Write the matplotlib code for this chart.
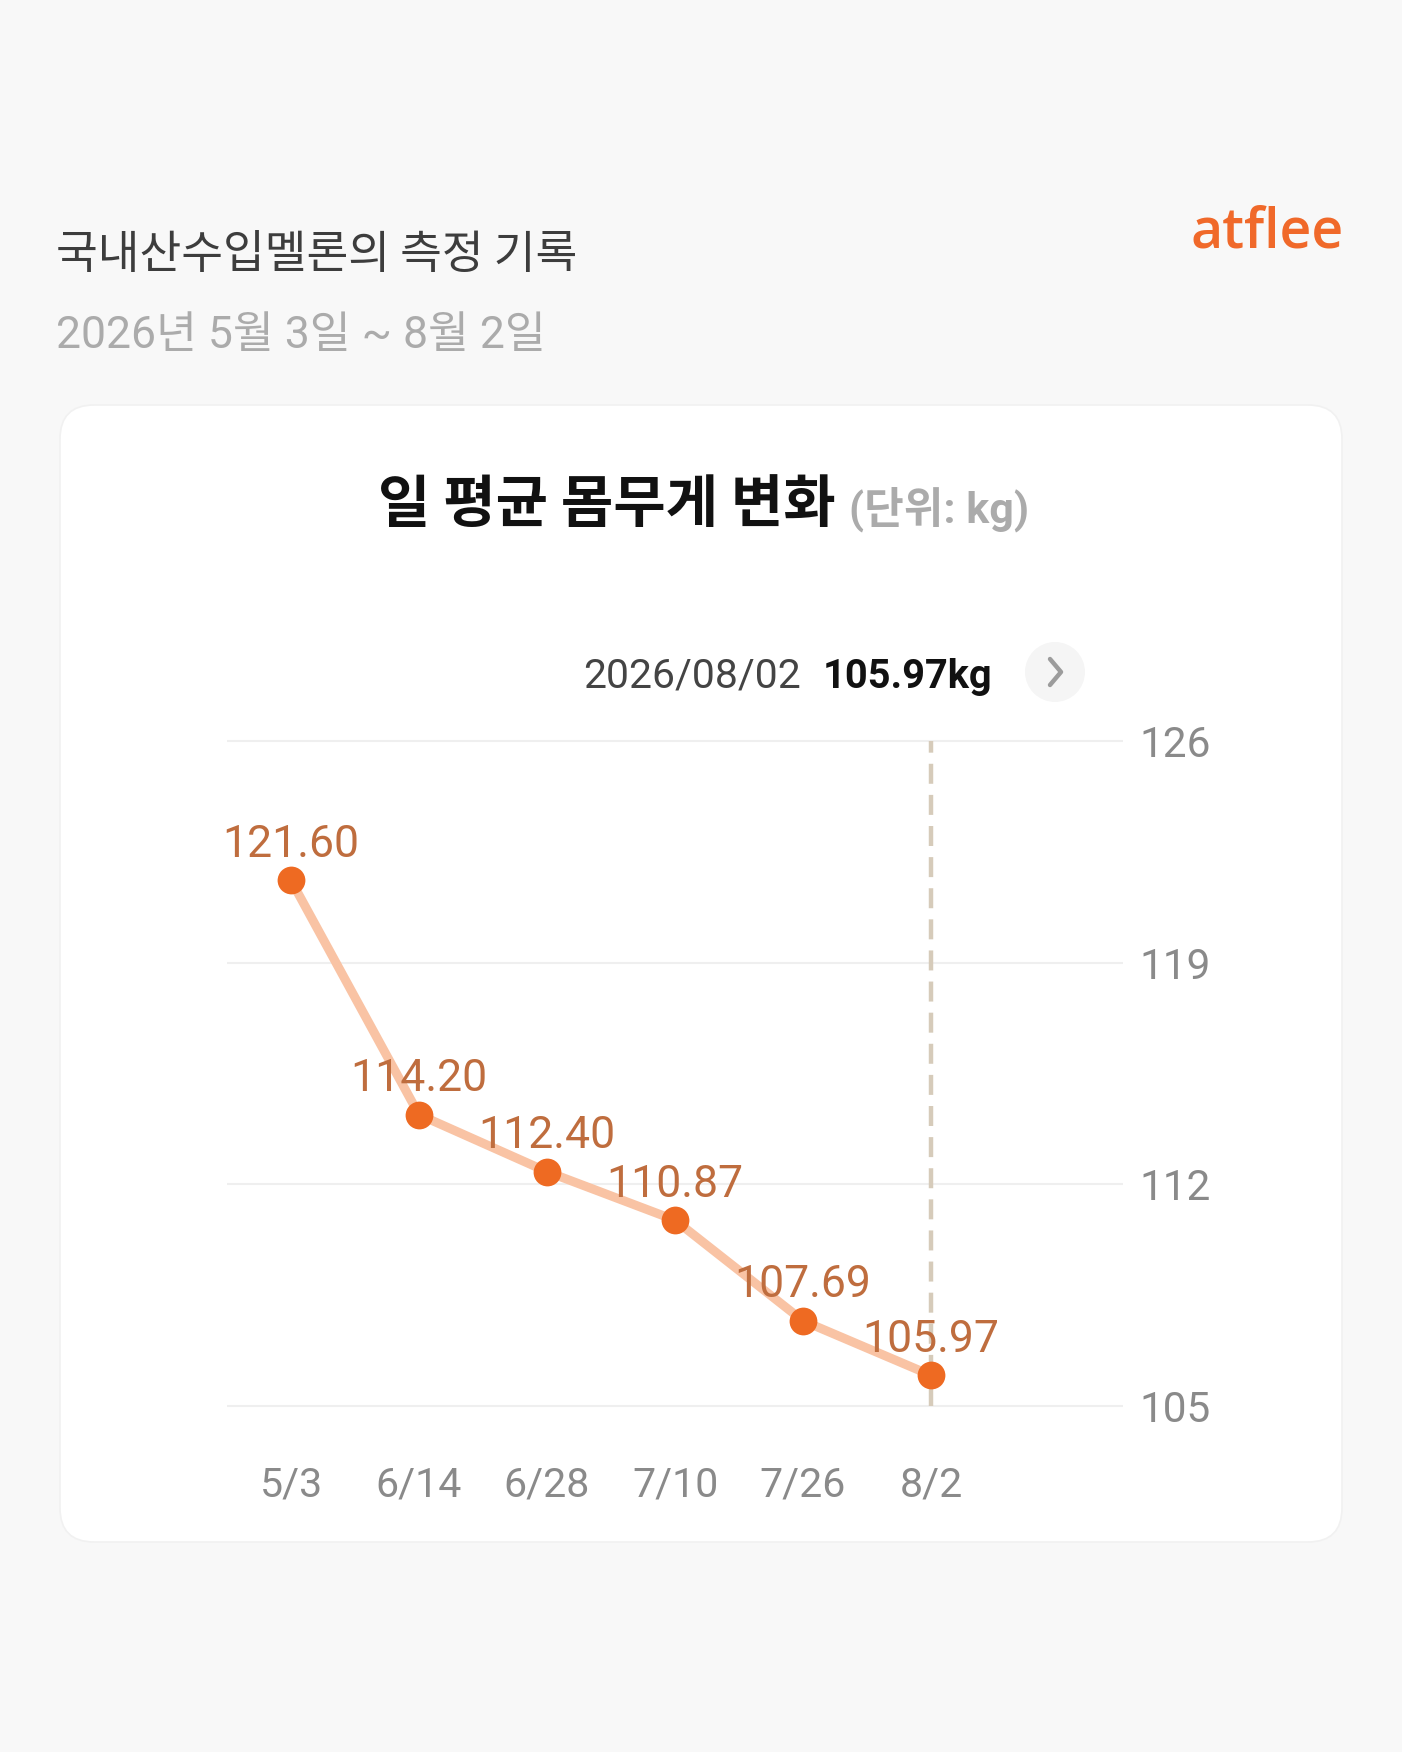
import matplotlib
matplotlib.use("Agg")
import matplotlib.pyplot as plt
from matplotlib.patches import FancyBboxPatch, Circle
from matplotlib.lines import Line2D

# ---- data ----
dates = ["5/3", "6/14", "6/28", "7/10", "7/26", "8/2"]
weights = [121.60, 114.20, 112.40, 110.87, 107.69, 105.97]
y_ticks = [105, 112, 119, 126]
title = "국내산수입멜론의 측정 기록"
subtitle = "2026년 5월 3일 ~ 8월 2일"
heading = "일 평균 몸무게 변화"
unit = "(단위: kg)"
sel_date = "2026/08/02"
sel_value = "105.97kg"
logo = "atflee"

W, H = 1402, 1752
fig = plt.figure(figsize=(W / 100, H / 100), dpi=100)
fig.patch.set_facecolor("#f8f8f8")

KR = ["Noto Sans CJK KR", "DejaVu Sans"]
RK = ["Roboto", "Noto Sans CJK KR", "DejaVu Sans"]

bg = fig.add_axes([0, 0, 1, 1])
bg.set_xlim(0, W)
bg.set_ylim(H, 0)
bg.axis("off")

# card
card = FancyBboxPatch((60, 405), 1282, 1137, boxstyle="round,pad=0,rounding_size=34",
                      facecolor="white", edgecolor="#f1f1f1", linewidth=1.2)
bg.add_patch(card)

bg.text(56, 268, title, family=KR, fontsize=32.7, color="#3d3d3d", va="baseline", ha="left")
bg.text(56, 348, subtitle, family=RK, fontsize=32, color="#ababab", va="baseline", ha="left")
bg.text(1344, 248, logo, family=["Open Sans", "DejaVu Sans"], fontsize=40, color="#f0692a",
        va="baseline", ha="right", fontweight="semibold")

bg.text(378, 522, heading, family=KR, fontsize=41, color="#111111", va="baseline",
        ha="left", fontweight="bold")
bg.text(849, 522, unit, family=RK, fontsize=31, color="#ababab", va="baseline",
        ha="left", fontweight="bold")

bg.text(801, 688, sel_date, family=RK, fontsize=29.4, color="#444444", va="baseline", ha="right")
bg.text(823, 688, sel_value, family=RK, fontsize=28.6, color="#111111", va="baseline",
        ha="left", fontweight="bold")
bg.add_patch(Circle((1055, 672), 30, facecolor="#f5f5f5", edgecolor="none"))
bg.add_line(Line2D([1050, 1061, 1050], [659, 672, 685], color="#9c9c9c", lw=3.2,
                   solid_capstyle="round", solid_joinstyle="round"))

# ---- chart ----
left, right, top, bottom = 227, 1123, 741, 1406
ax = fig.add_axes([left / W, 1 - bottom / H, (right - left) / W, (bottom - top) / H])
ax.set_facecolor("none")
x = list(range(len(dates)))
ax.set_xlim(-0.5, 6.5)
ax.set_ylim(105, 126)
for s in ax.spines.values():
    s.set_visible(False)
ax.hlines(y_ticks, -0.5, 6.5, color="#efefef", lw=1.5, clip_on=False, zorder=0)
ax.vlines(x[-1], 105, 126, color="#d6cbba", lw=3.2, linestyles=(0, (4.5, 2.5)), zorder=1,
          clip_on=False)
ax.plot(x, weights, color="#f9c3a4", lw=6.5, zorder=2, solid_joinstyle="round")
ax.plot(x, weights, "o", color="#ee6a22", markersize=20, zorder=3, markeredgewidth=0)
for xi, w in zip(x, weights):
    ax.annotate(f"{w:.2f}", (xi, w), xytext=(0, 17), textcoords="offset points",
                ha="center", va="baseline", family=RK, fontsize=32, color="#bf6d3e", zorder=4)

ax.yaxis.tick_right()
ax.set_yticks(y_ticks)
ax.set_yticklabels([str(t) for t in y_ticks], family=RK, fontsize=30.5, color="#8a8a8a")
ax.set_xticks(x)
ax.set_xticklabels(dates, family=RK, fontsize=29.6, color="#8a8a8a")
ax.tick_params(axis="y", length=0, pad=12)
ax.tick_params(axis="x", length=0, pad=43)

fig.savefig("out.png", dpi=100, facecolor=fig.get_facecolor())
